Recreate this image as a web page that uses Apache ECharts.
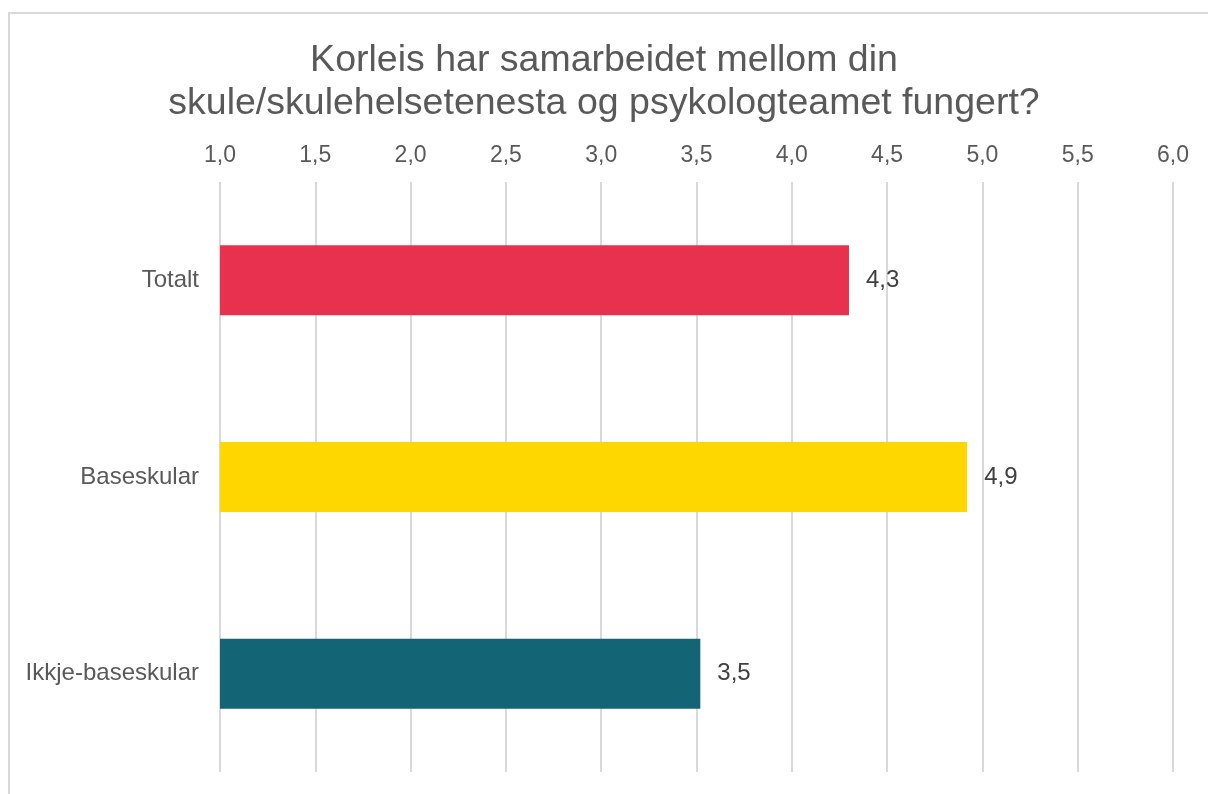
<!DOCTYPE html>
<html>
<head>
<meta charset="utf-8">
<script src="https://cdn.jsdelivr.net/npm/echarts@6/dist/echarts.min.js"></script>
<style>
  html, body { margin: 0; padding: 0; background: #fff; }
  #chart { width: 1208px; height: 794px; }
</style>
</head>
<body>
<div id="chart"></div>
<script>
var categories = [ 'Totalt', 'Baseskular', 'Ikkje-baseskular' ];
var values = [ 4.3, 4.92, 3.52 ];
var colors = [ '#E8304F', '#FFD700', '#136475' ];
var titleLines = [ 'Korleis har samarbeidet mellom din', 'skule/skulehelsetenesta og psykologteamet fungert?' ];

function comma(v, d) {
	return v.toFixed(d).replace('.', ',');
}

var chart = echarts.init(document.getElementById('chart'));
chart.setOption({
	backgroundColor: '#fff',
	animation: false,
	title: {
		text: titleLines.join('\n'),
		left: 'center',
		top: 34,
		textStyle: {
			color: '#595959',
			fontFamily: 'Liberation Sans',
			fontWeight: 'normal',
			fontSize: 37.5,
			lineHeight: 43
		}
	},
	graphic: [ {
		type: 'rect',
		shape: { x: 9, y: 13, width: 1300, height: 900 },
		style: { fill: 'none', stroke: '#d9d9d9', lineWidth: 2 },
		silent: true
	} ],
	grid: {
		left: 220,
		right: 35,
		top: 182,
		bottom: 22,
		containLabel: false
	},
	xAxis: {
		type: 'value',
		position: 'top',
		min: 1,
		max: 6,
		interval: 0.5,
		axisLine: { show: false },
		axisTick: { show: false },
		axisLabel: {
			color: '#595959',
			fontFamily: 'Liberation Sans',
			fontSize: 23,
			margin: 15,
			formatter: function (v) { return comma(v, 1); }
		},
		splitLine: { lineStyle: { color: '#d9d9d9', width: 2 } }
	},
	yAxis: {
		type: 'category',
		inverse: true,
		data: categories,
		axisLine: { show: false },
		axisTick: { show: false },
		axisLabel: {
			color: '#595959',
			fontFamily: 'Liberation Sans',
			fontSize: 24,
			margin: 21
		}
	},
	series: [ {
		type: 'bar',
		barWidth: 70,
		data: values.map(function (v, i) {
			return { value: v, itemStyle: { color: colors[i] } };
		}),
		label: {
			show: true,
			position: 'right',
			distance: 17,
			color: '#404040',
			fontFamily: 'Liberation Sans',
			fontSize: 24,
			formatter: function (p) { return comma(p.value, 1); }
		}
	} ]
});
</script>
</body>
</html>
